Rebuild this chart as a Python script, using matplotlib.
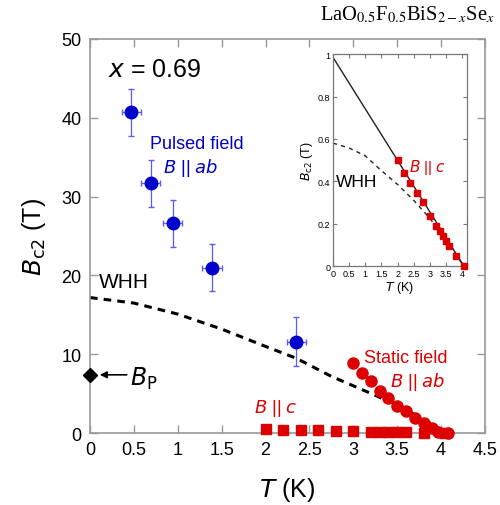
import matplotlib
matplotlib.use("Agg")
import matplotlib.pyplot as plt

plt.rcParams['font.family'] = ['Liberation Sans', 'DejaVu Sans']

# pulsed field, B || ab
pulsed_T = [0.47, 0.69, 0.94, 1.39, 2.35]
pulsed_B = [40.7, 31.7, 26.6, 21.0, 11.6]
pulsed_Terr = [0.11, 0.11, 0.11, 0.11, 0.11]
pulsed_Berr = [3.0, 3.0, 3.0, 3.0, 3.1]

# static field, B || ab
static_T = [3.00, 3.10, 3.20, 3.30, 3.40, 3.50, 3.60, 3.70, 3.80, 3.90, 3.96, 4.08]
static_B = [8.95, 7.68, 6.57, 5.39, 4.41, 3.48, 2.84, 1.95, 1.23, 0.64, 0.2, 0.0]

# B || c
c_T = [2.0, 2.2, 2.4, 2.6, 2.8, 3.0, 3.2, 3.3, 3.4, 3.5, 3.6, 3.8, 4.05]
c_B = [0.50, 0.44, 0.39, 0.343, 0.30, 0.237, 0.19, 0.164, 0.14, 0.118, 0.094, 0.047, 0.0]

# WHH curves
whh_T = [0, 0.5, 1.0, 1.5, 2.0, 2.35, 2.75, 3.25, 3.55, 3.9, 4.05]
whh_B = [17.2, 16.5, 15.1, 13.2, 11.0, 9.5, 7.2, 4.8, 3.3, 1.1, 0.0]
whh_c_T = [0, 0.5, 1.0, 1.5, 2.0, 2.5, 3.0, 3.5, 4.05]
whh_c_B = [0.58, 0.557, 0.52, 0.45, 0.385, 0.31, 0.225, 0.12, 0.0]

# linear fit in inset
lin_T = [0, 4.05]
lin_B = [0.985, 0.0]

pauli_T = [0]
pauli_B = [7.4]

blue = '#0000cc'
red = '#dd0000'
grey = '#999999'

fig = plt.figure(figsize=(5.0, 5.06), dpi=100)
ax = fig.add_axes([0.18, 0.142, 0.79, 0.779])

ax.plot(whh_T, whh_B, ls=(0, (2.5, 2)), color='black', lw=2.2, zorder=2)
ax.errorbar(pulsed_T, pulsed_B, xerr=pulsed_Terr, yerr=pulsed_Berr, fmt='o',
            color=blue, ecolor='#5a5aff', elinewidth=0.9, capsize=2.5,
            markersize=9, zorder=4)
ax.plot(static_T, static_B, 'o', color=red, markersize=8, zorder=3,
        clip_on=False)
ax.plot(c_T, c_B, 's', color=red, markersize=7.3, zorder=3, clip_on=False)
ax.plot(pauli_T, pauli_B, 'D', color='black', markersize=7, clip_on=False,
        zorder=5)
ax.annotate('', xy=(0.08, 7.4), xytext=(0.45, 7.4),
            arrowprops=dict(arrowstyle='-|>', color='black', lw=1.2,
                            mutation_scale=10))
ax.text(0.46, 7.0, r'$B_{\mathrm{P}}$', fontsize=17, va='center', ha='left')

ax.set_xlim(0, 4.5)
ax.set_ylim(0, 50)
ax.set_xticks([0, 0.5, 1, 1.5, 2, 2.5, 3, 3.5, 4, 4.5])
ax.set_xticklabels(['0', '0.5', '1', '1.5', '2', '2.5', '3', '3.5', '4', '4.5'])
ax.set_yticks([0, 10, 20, 30, 40, 50])
ax.tick_params(direction='in', top=True, right=True, length=6, width=1,
               color=grey, labelsize=13, pad=6)
for s in ax.spines.values():
    s.set_color(grey)
    s.set_linewidth(1.2)

ax.set_xlabel(r'$T$ (K)', fontsize=18, labelpad=12)
ax.set_ylabel(r'$B_{\rm c2}$ (T)', fontsize=18, labelpad=10)

ax.text(0.2, 46.2, r'$x$ = 0.69', fontsize=18, va='center')
ax.text(0.68, 36.8, 'Pulsed field', color=blue, fontsize=13, va='center')
ax.text(0.83, 33.7, r'$B$ || $ab$', color=blue, fontsize=13, va='center')
ax.text(0.1, 19.2, 'WHH', fontsize=15, va='center')
ax.text(3.12, 9.6, 'Static field', color=red, fontsize=13, va='center')
ax.text(3.42, 6.6, r'$B$ || $ab$', color=red, fontsize=13, va='center')
ax.text(1.87, 3.3, r'$B$ || $c$', color=red, fontsize=13, va='center')

fig.text(0.99, 0.97, r'LaO$_{0.5}$F$_{0.5}$BiS$_{2-x}$Se$_{x}$',
         fontsize=14.8, ha='right', va='center', family='Liberation Serif',
         math_fontfamily='stix')

# inset
ins = fig.add_axes([0.666, 0.4723, 0.268, 0.4187])
ins.plot(lin_T, lin_B, color='#222222', lw=1.0, zorder=2)
ins.plot(whh_c_T, whh_c_B, ls=(0, (3, 3)), color='#222222', lw=1.0, zorder=2)
ins.plot(c_T, c_B, 's', color=red, markersize=5, zorder=3, clip_on=False)
ins.set_xlim(0, 4.15)
ins.set_ylim(0, 1)
ins.set_xticks([0, 0.5, 1, 1.5, 2, 2.5, 3, 3.5, 4])
ins.set_xticklabels(['0', '0.5', '1', '1.5', '2', '2.5', '3', '3.5', '4'])
ins.set_yticks([0, 0.2, 0.4, 0.6, 0.8, 1])
ins.set_yticklabels(['0', '0.2', '0.4', '0.6', '0.8', '1'])
ins.tick_params(direction='in', top=True, right=True, length=3, width=0.8,
                color='#777777', labelsize=6.5, pad=2)
for s in ins.spines.values():
    s.set_color('#777777')
    s.set_linewidth(0.9)
ins.set_xlabel(r'$T$ (K)', fontsize=9, labelpad=1)
ins.set_ylabel(r'$B_{\rm c2}$ (T)', fontsize=9, labelpad=2)
ins.text(0.1, 0.40, 'WHH', fontsize=12.5, va='center')
ins.text(2.35, 0.47, r'$B$ || $c$', color=red, fontsize=11, va='center')

fig.savefig('out.png', dpi=100)
